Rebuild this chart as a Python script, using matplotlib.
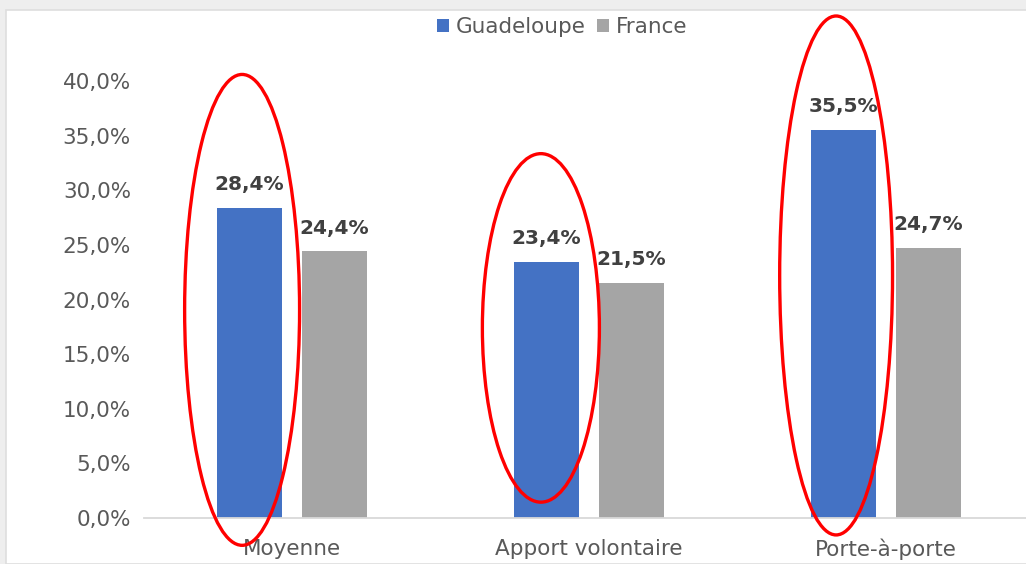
import matplotlib.pyplot as plt
import numpy as np
from matplotlib.patches import Ellipse, Rectangle

categories = ["Moyenne", "Apport volontaire", "Porte-à-porte"]
guadeloupe = [28.4, 23.4, 35.5]
france = [24.4, 21.5, 24.7]
series_names = ["Guadeloupe", "France"]
yticks = [0, 5, 10, 15, 20, 25, 30, 35, 40]

blue = "#4472C4"
grey = "#A5A5A5"
txt = "#595959"

plt.rcParams['font.family'] = ['DejaVu Sans']

fig = plt.figure(figsize=(10.26, 5.64), dpi=100)
fig.patch.set_facecolor("#eeeeee")
# white card with a light shadow line on top
fig.patches.append(Rectangle((6 / 1026, 0), 1, 1 - 10 / 564, transform=fig.transFigure,
                             facecolor="white", edgecolor="#dedede", linewidth=1.2, zorder=-10))

ax = fig.add_axes([143.5 / 1026, 46 / 564, 891 / 1026, 437 / 564])
ax.set_facecolor("none")

x = np.arange(len(categories))
w = 0.222
off = 0.143
b1 = ax.bar(x - off, guadeloupe, w, color=blue, label=series_names[0], zorder=2)
b2 = ax.bar(x + off, france, w, color=grey, label=series_names[1], zorder=2)

for bars, vals in [(b1, guadeloupe), (b2, france)]:
    for r, v in zip(bars, vals):
        ax.annotate(f"{v:.1f}%".replace(".", ","), (r.get_x() + r.get_width() / 2, v),
                    xytext=(0, 10), textcoords="offset points", ha="center", va="bottom",
                    fontsize=14.5, fontweight="bold", color="#404040", annotation_clip=False)

# red ellipses highlighting Guadeloupe
ell = [(-0.168, 19.05, 0.387, 43.1), (1 - 0.162, 17.4, 0.394, 31.9), (2 - 0.168, 22.2, 0.38, 47.5)]
for cx, cy, ew, eh in ell:
    ax.add_patch(Ellipse((cx, cy), ew, eh, fill=False, edgecolor="red", linewidth=2.4,
                         clip_on=False, zorder=5))

ax.set_xlim(-0.5, 2.5)
ax.set_ylim(0, 40)
ax.set_yticks(yticks)
ax.set_yticklabels([f"{t:.1f}%".replace(".", ",") for t in yticks])
ax.set_xticks(x)
ax.set_xticklabels(categories)
ax.tick_params(axis="y", length=0, pad=9, labelsize=15.5, labelcolor=txt)
ax.tick_params(axis="x", length=0, pad=15, labelsize=15.5, labelcolor=txt)
for s in ["top", "right", "left"]:
    ax.spines[s].set_visible(False)
ax.spines["bottom"].set_color("#d9d9d9")
ax.spines["bottom"].set_linewidth(1.3)

fig.legend(handles=[b1, b2], loc="center", bbox_to_anchor=(562 / 1026, 1 - 27 / 564),
           ncol=2, frameon=False, fontsize=15.5, labelcolor=txt, handlelength=0.6,
           handleheight=0.6, handletextpad=0.3, columnspacing=0.5, borderpad=0)

fig.savefig("out.png", dpi=100)
